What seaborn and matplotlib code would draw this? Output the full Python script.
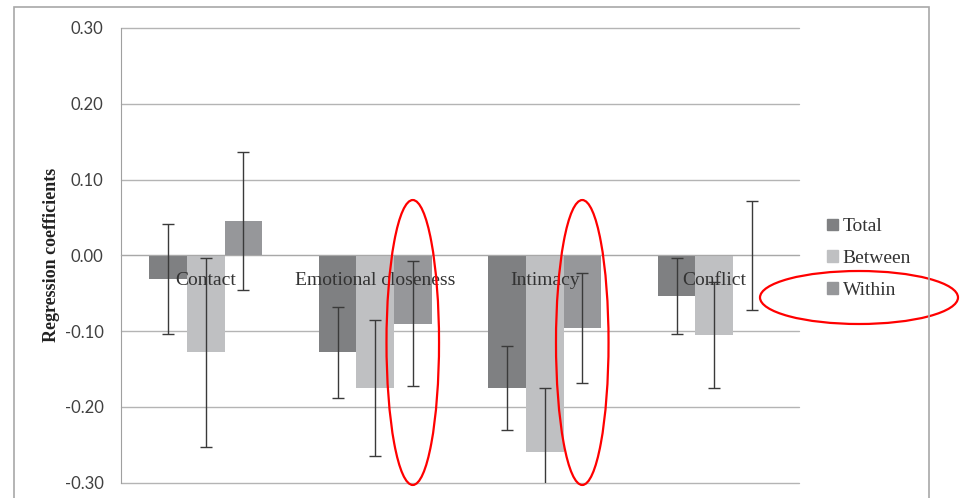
import matplotlib
matplotlib.use('Agg')
import matplotlib.pyplot as plt
import matplotlib.patches as mpatches
import numpy as np
import pandas as pd
import seaborn as sns

# Data
categories = ['Contact', 'Emotional closeness', 'Intimacy', 'Conflict']
series = ['Total', 'Between', 'Within']
total = [-0.031, -0.128, -0.175, -0.054]
between = [-0.128, -0.175, -0.260, -0.105]
within = [0.045, -0.090, -0.096, 0.0]
total_err = [0.073, 0.060, 0.055, 0.050]
between_err = [0.125, 0.090, 0.085, 0.070]
within_err = [0.091, 0.082, 0.073, 0.072]
yticks = [-0.30, -0.20, -0.10, 0.00, 0.10, 0.20, 0.30]

colors = {'Total': '#7f8082', 'Between': '#bfc0c2', 'Within': '#96979a'}

df = pd.DataFrame({
    'category': categories * 3,
    'series': [s for s in series for _ in categories],
    'value': total + between + within,
})
errs = {'Total': total_err, 'Between': between_err, 'Within': within_err}

sns.set_style('white')
plt.rcParams['font.family'] = ['Liberation Serif', 'DejaVu Serif']

fig = plt.figure(figsize=(9.61, 4.98), dpi=100)
ax = fig.add_axes([121 / 961, 1 - 482.7 / 498, (799 - 121) / 961, (482.7 - 28) / 498])

sns.barplot(data=df, x='category', y='value', hue='series', order=categories,
            hue_order=series, palette=colors, width=0.664, gap=0, saturation=1,
            errorbar=None, linewidth=0, legend=False, ax=ax)

# error bars at the bar centres
for s, cont in zip(series, ax.containers):
    xs = [b.get_x() + b.get_width() / 2 for b in cont]
    vals = [b.get_height() for b in cont]
    ax.errorbar(xs, vals, yerr=errs[s], fmt='none', ecolor='#3a3a3a',
                elinewidth=1.0, capsize=4.5, capthick=1.0, zorder=3)

ax.set_xlim(-0.5, 3.5)
ax.set_ylim(-0.3, 0.3)
ax.set_yticks(yticks)
ax.set_yticklabels([f'{v:.2f}' for v in yticks], fontfamily='Lato', fontsize=12,
                   color='#404040')
ax.yaxis.grid(True, color='#b4b4b4', linewidth=1.0)
ax.set_axisbelow(True)
for gl in ax.get_ygridlines():
    gl.set_clip_on(False)

for side in ['top', 'right']:
    ax.spines[side].set_visible(False)
ax.spines['left'].set_color('#a0a0a0')
ax.spines['bottom'].set_position(('data', 0))
ax.spines['bottom'].set_color('#a8a8a8')

ax.set_xticks(range(len(categories)))
ax.set_xticklabels(categories, fontsize=14, color='#333333')
ax.set_xticks(np.arange(-0.5, 4, 1), minor=True)
ax.tick_params(axis='x', which='major', length=0, pad=12)
ax.tick_params(axis='x', which='minor', length=4, direction='out', color='#a8a8a8', width=1)
ax.tick_params(axis='y', length=4.5, direction='out', color='#a0a0a0', width=1, pad=8)
# category labels sit on top of the bars
ax.xaxis.set_zorder(4)
ax.set_xlabel('')
ax.set_ylabel('Regression coefficients', fontsize=13, fontweight='bold', color='#222222')
ax.yaxis.set_label_coords(-0.09, 0.5)

handles = [mpatches.Patch(color=colors[s], label=s) for s in series]
fig.legend(handles=handles, loc='center left', bbox_to_anchor=(827 / 961, 1 - 258.5 / 498),
           frameon=False, fontsize=14, handlelength=0.55, handleheight=0.55,
           handletextpad=0.25, labelspacing=0.75, borderpad=0, borderaxespad=0,
           labelcolor='#333333')

# red highlight ellipses around the Within bars of two categories
within_bars = ax.containers[2]
for i in [1, 2]:
    b = within_bars[i]
    cx = b.get_x() + b.get_width() / 2
    ax.add_patch(mpatches.Ellipse((cx, -0.115), 0.31, 0.376, fill=False,
                                  edgecolor='#ff0000', linewidth=1.6, clip_on=False, zorder=5))

fig.add_artist(mpatches.Ellipse((859 / 961, 1 - 297.5 / 498), 198 / 961, 53 / 498,
                                transform=fig.transFigure, fill=False,
                                edgecolor='#ff0000', linewidth=1.6))

# outer chart border
fig.add_artist(mpatches.Rectangle((14 / 961, -0.1), (929 - 14) / 961, (498 - 7) / 498 + 0.1,
                                  transform=fig.transFigure, fill=False,
                                  edgecolor='#a8a8a8', linewidth=1.2))

fig.savefig('out.png', dpi=100)
